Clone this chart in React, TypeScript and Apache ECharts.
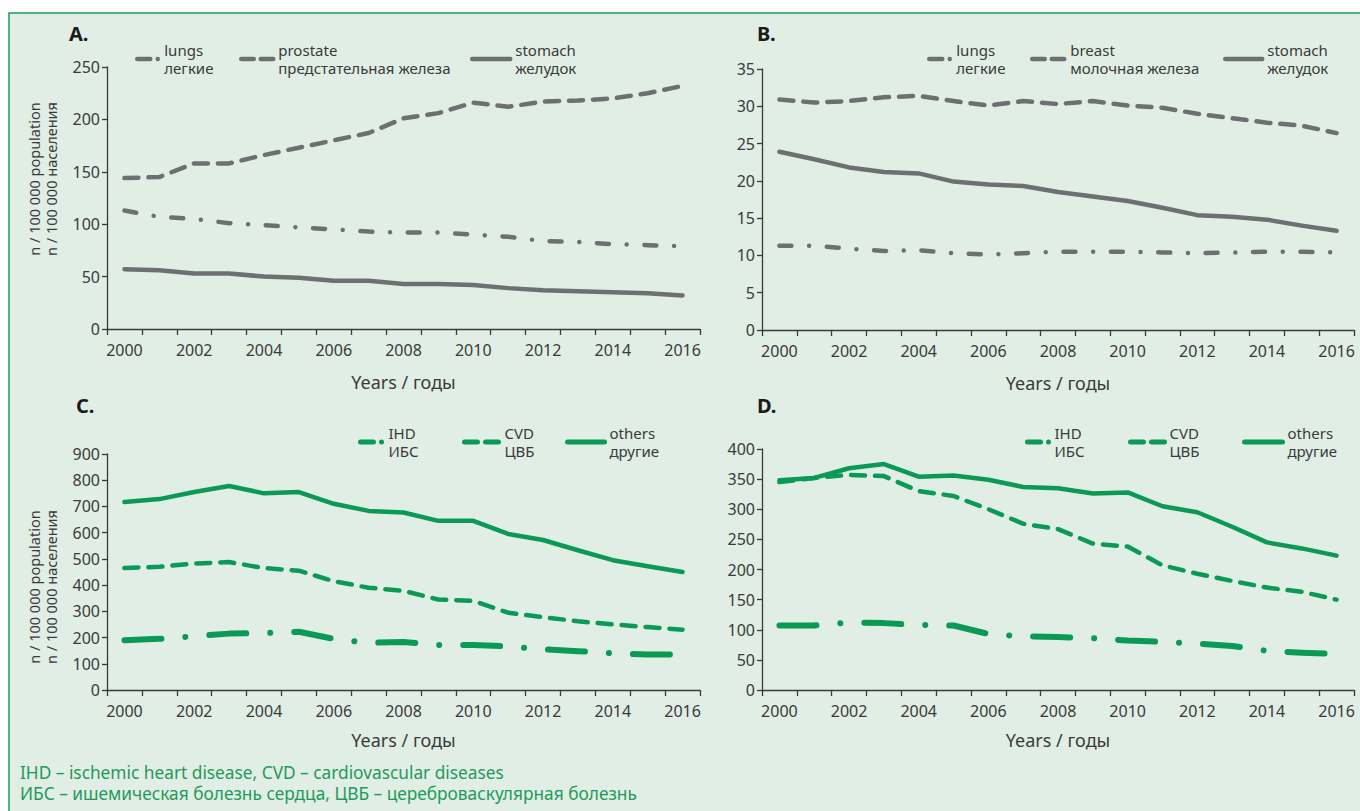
import React, { useEffect, useRef } from "react";
import * as echarts from "echarts";

// ---------- data ----------
const years = ["2000","2001","2002","2003","2004","2005","2006","2007","2008","2009","2010","2011","2012","2013","2014","2015","2016"];

// Panel A
const aLungs = [113, 107, 105, 101, 99, 97, 95, 93, 92, 92, 90, 88, 84, 83, 81, 80, 79];
const aProstate = [144, 145, 158, 158, 166, 173, 180, 187, 201, 206, 216, 212, 217, 218, 220, 225, 232];
const aStomach = [57, 56, 53, 53, 50, 49, 46, 46, 43, 43, 42, 39, 37, 36, 35, 34, 32];

// Panel B
const bLungs = [11.3, 11.3, 10.9, 10.6, 10.7, 10.3, 10.1, 10.3, 10.5, 10.5, 10.5, 10.4, 10.3, 10.4, 10.5, 10.5, 10.4];
const bBreast = [30.9, 30.5, 30.7, 31.2, 31.4, 30.7, 30.1, 30.7, 30.3, 30.7, 30.1, 29.8, 29.0, 28.4, 27.8, 27.4, 26.4];
const bStomach = [23.9, 22.9, 21.8, 21.2, 21.0, 19.9, 19.5, 19.3, 18.5, 17.9, 17.3, 16.4, 15.4, 15.2, 14.8, 14.0, 13.3];

// Panel C
const cIHD = [190, 195, 205, 215, 217, 222, 195, 180, 183, 172, 172, 166, 155, 148, 140, 135, 135];
const cCVD = [465, 470, 482, 488, 465, 455, 415, 390, 378, 345, 340, 295, 278, 262, 250, 240, 230];
const cOthers = [717, 728, 755, 778, 750, 755, 710, 683, 677, 645, 645, 595, 572, 533, 495, 472, 450];

// Panel D
const dIHD = [107, 107, 112, 111, 108, 107, 93, 89, 88, 86, 82, 80, 77, 73, 65, 62, 60];
const dCVD = [345, 352, 357, 355, 330, 322, 300, 276, 267, 243, 238, 207, 193, 181, 170, 163, 150];
const dOthers = [348, 352, 368, 375, 354, 356, 349, 337, 335, 326, 328, 305, 295, 271, 245, 235, 223];

const legendText: Record<string, string> = {
  "A lungs": "lungs\nлегкие",
  "A prostate": "prostate\nпредстательная железа",
  "A stomach": "stomach\nжелудок",
  "B lungs": "lungs\nлегкие",
  "B breast": "breast\nмолочная железа",
  "B stomach": "stomach\nжелудок",
  "C IHD": "IHD\nИБС",
  "C CVD": "CVD\nЦВБ",
  "C others": "others\nдругие",
  "D IHD": "IHD\nИБС",
  "D CVD": "CVD\nЦВБ",
  "D others": "others\nдругие",
};

const yearsLabel = "Years / годы";
const yTitle1 = "n / 100 000 population";
const yTitle2 = "n / 100 000 населения";
const footnote1 = "IHD – ischemic heart disease, CVD – cardiovascular diseases";
const footnote2 = "ИБС – ишемическая болезнь сердца, ЦВБ – цереброваскулярная болезнь";

// ---------- styles ----------
const GRAY = "#6e6f72";
const GREEN = "#0b9a55";
const TEXT = "#3a3a3a";
const FONT = "'Noto Sans', 'Open Sans', sans-serif";

const dashDot = [12, 17.7, 0.01, 17.7];
const dashDotLong = [37, 24, 0.01, 24];
const dashed = [14, 10];

const grids = [
  { left: 107, top: 67, width: 593, height: 262 },
  { left: 762, top: 69, width: 592, height: 261 },
  { left: 107, top: 454, width: 593, height: 236 },
  { left: 762, top: 449, width: 592, height: 241 },
];
const yMax = [250, 35, 900, 400];
const yInt = [50, 5, 100, 50];

function makeX(i: number) {
  return {
    type: "category",
    gridIndex: i,
    data: years,
    boundaryGap: true,
    axisLine: { lineStyle: { color: TEXT, width: 1.3 } },
    axisTick: { show: true, interval: 0, length: 6, lineStyle: { color: TEXT, width: 1.3 } },
    axisLabel: { interval: 1, margin: 13, fontSize: 16, color: TEXT, fontFamily: FONT },
    splitLine: { show: false },
    name: yearsLabel,
    nameLocation: "middle",
    nameGap: i < 2 ? 44 : 41,
    nameTextStyle: { fontSize: 18, color: TEXT, fontFamily: FONT },
  };
}

function makeY(i: number) {
  return {
    type: "value",
    gridIndex: i,
    min: 0,
    max: yMax[i],
    interval: yInt[i],
    axisLine: { show: true, lineStyle: { color: TEXT, width: 1.3 } },
    axisTick: { show: true, length: 5, lineStyle: { color: TEXT, width: 1.3 } },
    axisLabel: { margin: 7, fontSize: 16, color: TEXT, fontFamily: FONT },
    splitLine: { show: false },
  };
}

function line(name: string, idx: number, data: number[], color: string, width: number, type: any) {
  return {
    name,
    type: "line",
    xAxisIndex: idx,
    yAxisIndex: idx,
    data,
    symbol: "circle",
    showSymbol: false,
    lineStyle: { color, width, type, cap: "round", join: "round" },
    itemStyle: { color },
    emphasis: { disabled: true },
  };
}

function legend(name: string, left: number, top: number, itemWidth: number, type: any, width: number, color: string) {
  return {
    data: [name],
    left,
    top,
    padding: 0,
    itemWidth,
    itemHeight: 6,
    itemGap: 0,
    selectedMode: false,
    formatter: (n: string) => legendText[n],
    textStyle: { fontSize: 15, lineHeight: 18, color: TEXT, fontFamily: FONT },
    lineStyle: { type, width, color, cap: "round" },
    itemStyle: { opacity: 0 },
  };
}

export default function App() {
  const ref = useRef<HTMLDivElement>(null);
  useEffect(() => {
    if (!ref.current) return;
    const chart = echarts.init(ref.current, undefined, { renderer: "svg" });
    const yt = (text: string, x: number, y: number) => ({
      type: "text", x, y, rotation: Math.PI / 2,
      style: { text, fontSize: 14.5, fill: TEXT, fontFamily: FONT, align: "center", verticalAlign: "middle" },
    });
    const option: any = {
      animation: false,
      backgroundColor: "#ffffff",
      grid: grids.map((g) => ({ ...g, containLabel: false })),
      xAxis: [0, 1, 2, 3].map(makeX),
      yAxis: [0, 1, 2, 3].map(makeY),
      legend: [
        legend("A lungs", 135, 41, 22, [13, 7.5, 0.01, 30], 4.5, GRAY),
        legend("A prostate", 239, 41, 32, [12.5, 7], 4.5, GRAY),
        legend("A stomach", 470, 41, 38, "solid", 4.5, GRAY),
        legend("B lungs", 927, 41, 22, [13, 7.5, 0.01, 30], 4.5, GRAY),
        legend("B breast", 1030, 41, 33, [12.5, 7], 4.5, GRAY),
        legend("B stomach", 1223, 41, 37, "solid", 4.5, GRAY),
        legend("C IHD", 358, 424, 23, [13, 8, 0.01, 30], 5, GREEN),
        legend("C CVD", 462, 424, 35, [13, 8], 5, GREEN),
        legend("C others", 565, 424, 37, "solid", 5, GREEN),
        legend("D IHD", 1025, 424, 22, [13, 8, 0.01, 30], 5, GREEN),
        legend("D CVD", 1128, 424, 34, [13, 8], 5, GREEN),
        legend("D others", 1242, 424, 38, "solid", 5, GREEN),
      ],
      series: [
        line("A lungs", 0, aLungs, GRAY, 4.5, dashDot),
        line("A prostate", 0, aProstate, GRAY, 4.5, dashed),
        line("A stomach", 0, aStomach, GRAY, 4.5, "solid"),
        line("B lungs", 1, bLungs, GRAY, 4.5, dashDot),
        line("B breast", 1, bBreast, GRAY, 4.5, dashed),
        line("B stomach", 1, bStomach, GRAY, 4.5, "solid"),
        line("C IHD", 2, cIHD, GREEN, 6, dashDotLong),
        line("C CVD", 2, cCVD, GREEN, 4.5, dashed),
        line("C others", 2, cOthers, GREEN, 4.5, "solid"),
        line("D IHD", 3, dIHD, GREEN, 6, dashDotLong),
        line("D CVD", 3, dCVD, GREEN, 4.5, dashed),
        line("D others", 3, dOthers, GREEN, 4.5, "solid"),
      ],
      graphic: [
        {
          type: "rect",
          z: -100,
          silent: true,
          shape: { x: 9, y: 13, width: 1400, height: 850 },
          style: { fill: "#e1eee5", stroke: "#1f9a5c", lineWidth: 1.5 },
        },
        { type: "text", x: 69, y: 33, style: { text: "A.", fontSize: 20, fontWeight: "bold", fill: "#1a1a1a", fontFamily: FONT, verticalAlign: "middle" } },
        { type: "text", x: 757, y: 33, style: { text: "B.", fontSize: 20, fontWeight: "bold", fill: "#1a1a1a", fontFamily: FONT, verticalAlign: "middle" } },
        { type: "text", x: 76, y: 405, style: { text: "C.", fontSize: 20, fontWeight: "bold", fill: "#1a1a1a", fontFamily: FONT, verticalAlign: "middle" } },
        { type: "text", x: 757, y: 405, style: { text: "D.", fontSize: 20, fontWeight: "bold", fill: "#1a1a1a", fontFamily: FONT, verticalAlign: "middle" } },
        yt(yTitle1, 34, 179),
        yt(yTitle2, 51, 179),
        yt(yTitle1, 34, 587),
        yt(yTitle2, 51, 587),
        { type: "text", x: 20, y: 772, style: { text: footnote1, fontSize: 17.3, fill: "#1f9a5a", fontFamily: FONT, verticalAlign: "middle" } },
        { type: "text", x: 20, y: 793, style: { text: footnote2, fontSize: 17.3, fill: "#1f9a5a", fontFamily: FONT, verticalAlign: "middle" } },
      ],
    };
    chart.setOption(option);
    return () => chart.dispose();
  }, []);
  return <div ref={ref} style={{ position: "absolute", left: 0, top: 0, width: 1360, height: 811 }} />;
}
